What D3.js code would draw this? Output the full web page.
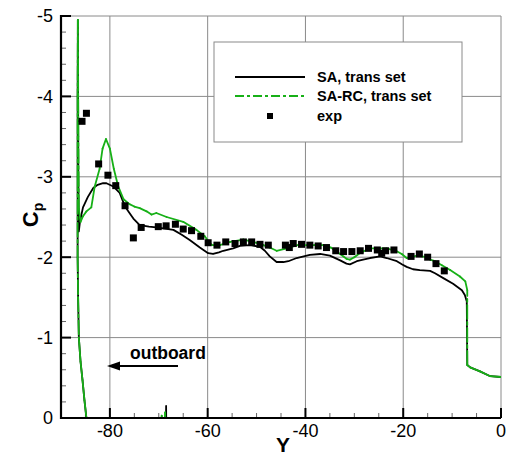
<!DOCTYPE html>
<html><head><meta charset="utf-8">
<script src="https://cdn.jsdelivr.net/npm/d3@7"></script>
<style>body{margin:0;background:#fff}svg{display:block}</style>
</head><body>
<script>
// ---------- data ----------
const xTicks = [-80, -60, -40, -20, 0];
const yTicks = [-5, -4, -3, -2, -1, 0];
const seriesNames = ["SA, trans set", "SA-RC, trans set", "exp"];

// SA, trans set : [Y, Cp]
const saY  = [0,-2.2,-4.3,-6.3,-6.9,-7.0,-7.4,-8.0,-9.8,-11.8,-13.5,-14.5,-16.6,-18.0,-19.3,-20.2,-21.3,-23.4,-24.7,-26.8,-28.2,-29.5,-30.9,-31.6,-32.9,-35.0,-37.0,-39.1,-41.8,-43.5,-44.5,-45.9,-47.3,-48.3,-49.3,-51.4,-53.4,-54.8,-56.8,-57.7,-58.9,-59.9,-61.6,-63.6,-65.3,-67.0,-70.5,-72.0,-73.9,-75.2,-76.1,-76.9,-78.0,-79.3,-80.7,-81.4,-82.5,-83.4,-84.5,-85.5,-86.1,-86.35,-86.45,-86.5,-86.55,-86.6,-86.6,-86.6,-86.5,-86.35,-86.0,-85.6,-85.2,-84.8,-84.2,-80.0,-72.0,-69.0,-68.55,-68.5,-68.45,-64.0,-60.0];
const saCp = [-0.51,-0.52,-0.58,-0.63,-0.66,-1.45,-1.53,-1.59,-1.67,-1.74,-1.80,-1.83,-1.84,-1.85,-1.88,-1.91,-1.95,-1.99,-2.01,-1.99,-1.97,-1.95,-1.91,-1.92,-1.96,-2.02,-2.04,-2.03,-1.99,-1.95,-1.94,-1.94,-2.01,-2.08,-2.13,-2.15,-2.14,-2.11,-2.08,-2.06,-2.04,-2.05,-2.12,-2.21,-2.28,-2.34,-2.37,-2.38,-2.40,-2.48,-2.56,-2.63,-2.80,-2.88,-2.92,-2.92,-2.90,-2.86,-2.75,-2.62,-2.45,-2.32,-3.0,-4.0,-4.95,-4.0,-3.0,-2.0,-1.5,-1.0,-0.70,-0.47,-0.22,0.0,0.3,0.5,0.4,0.2,0.2,-0.15,0.2,0.35,0.35];

// SA-RC, trans set : [Y, Cp]
const rcY  = [0,-2.2,-4.3,-6.3,-6.9,-6.9,-7.3,-8.4,-10.4,-12.1,-13.5,-14.5,-15.2,-17.2,-18.3,-19.3,-20.3,-21.5,-23.4,-26.8,-28.9,-30.0,-30.9,-31.6,-32.9,-34.8,-36.5,-38.2,-41.6,-43.8,-45.9,-47.3,-48.6,-50.7,-52.7,-55.4,-57.5,-59.0,-59.5,-60.6,-62.3,-65.0,-68.4,-70.5,-71.5,-72.5,-73.9,-75.0,-76.0,-77.2,-78.3,-79.2,-80.0,-80.8,-81.5,-82.1,-83.1,-83.8,-84.8,-85.5,-86.0,-86.35,-86.45,-86.5,-86.55,-86.6,-86.6,-86.6,-86.5,-86.35,-86.0,-85.6,-85.2,-84.8,-84.2,-80.0,-72.0,-69.45,-69.4,-69.35,-68.8,-68.7,-68.6,-64.0,-60.0];
const rcCp = [-0.51,-0.52,-0.58,-0.63,-0.66,-1.59,-1.70,-1.76,-1.84,-1.90,-1.95,-1.97,-2.00,-2.02,-2.00,-1.99,-2.04,-2.08,-2.11,-2.11,-2.05,-2.00,-1.97,-1.98,-2.04,-2.12,-2.15,-2.15,-2.15,-2.11,-2.08,-2.12,-2.15,-2.19,-2.22,-2.19,-2.15,-2.15,-2.17,-2.26,-2.34,-2.44,-2.50,-2.55,-2.53,-2.57,-2.61,-2.63,-2.66,-2.72,-2.88,-3.10,-3.35,-3.47,-3.35,-3.10,-2.88,-2.62,-2.57,-2.51,-2.44,-2.60,-3.5,-4.3,-4.95,-4.0,-3.0,-2.0,-1.5,-1.0,-0.70,-0.47,-0.22,0.0,0.3,0.5,0.4,0.2,-0.03,0.2,0.2,-0.07,0.2,0.35,0.35];

// exp
const expY  = [-85.7,-84.8,-82.3,-80.4,-78.8,-76.9,-75.2,-73.6,-70.1,-68.5,-66.6,-65.0,-63.3,-61.4,-59.9,-58.1,-56.3,-54.4,-52.7,-51.0,-49.3,-47.6,-44.1,-43.3,-42.5,-40.8,-39.1,-37.4,-35.7,-33.8,-32.2,-30.5,-28.8,-27.1,-25.3,-24.4,-23.6,-21.9,-18.4,-16.7,-15.0,-13.3,-11.6];
const expCp = [-3.69,-3.79,-3.16,-3.02,-2.89,-2.64,-2.24,-2.37,-2.38,-2.39,-2.41,-2.35,-2.33,-2.26,-2.18,-2.15,-2.19,-2.17,-2.19,-2.19,-2.16,-2.15,-2.15,-2.12,-2.17,-2.16,-2.15,-2.14,-2.12,-2.08,-2.07,-2.07,-2.08,-2.11,-2.09,-2.05,-2.08,-2.09,-2.01,-2.04,-2.00,-1.92,-1.83];

// ---------- chart ----------
const W = 506, H = 458;
const m = {left: 61, right: 5, top: 16, bottom: 40};
const green = "#17b017";
const grid = "#8a8a8a";
const font = "'Liberation Sans', Arial, Helvetica, sans-serif";

const x = d3.scaleLinear().domain([-90, 0]).range([m.left, W - m.right]);
const y = d3.scaleLinear().domain([-5, 0]).range([m.top, H - m.bottom]);

const svg = d3.select("body").append("svg").attr("width", W).attr("height", H)
  .style("font-family", font);

svg.append("clipPath").attr("id", "clip").append("rect")
  .attr("x", x(-90)).attr("y", y(-5)).attr("width", x(0) - x(-90)).attr("height", y(0) - y(-5));

// grid
const g = svg.append("g");
g.selectAll("line.vg").data(xTicks).join("line")
  .attr("x1", d => x(d)).attr("x2", d => x(d)).attr("y1", y(-5)).attr("y2", y(0))
  .attr("stroke", grid).attr("stroke-width", 1);
g.selectAll("line.hg").data(yTicks).join("line")
  .attr("x1", x(-90)).attr("x2", x(0)).attr("y1", d => y(d)).attr("y2", d => y(d))
  .attr("stroke", grid).attr("stroke-width", 1);

// minor ticks
const yMinor = d3.range(-5, 0.001, 0.2).filter(v => Math.abs(v - Math.round(v)) > 0.01);
g.selectAll("line.ym").data(yMinor).join("line")
  .attr("x1", x(-90)).attr("x2", x(-90) + 5).attr("y1", d => y(d)).attr("y2", d => y(d))
  .attr("stroke", "#666").attr("stroke-width", 1);
const xMinor = d3.range(-85, 0, 5).filter(v => v % 20 !== 0);
g.selectAll("line.xm").data(xMinor).join("line")
  .attr("x1", d => x(d)).attr("x2", d => x(d)).attr("y1", y(0)).attr("y2", y(0) - 5)
  .attr("stroke", "#666").attr("stroke-width", 1);

// legend box (drawn under the data)
const legend = svg.append("g");
legend.append("rect").attr("x", 214).attr("y", 42).attr("width", 248).attr("height", 100)
  .attr("fill", "#fff").attr("stroke", grid).attr("stroke-width", 1);

const plot = svg.append("g").attr("clip-path", "url(#clip)");
const line = d3.line().x(d => x(d[0])).y(d => y(d[1]));

const saPts = saY.map((v, i) => [v, saCp[i]]);
const rcPts = rcY.map((v, i) => [v, rcCp[i]]);

plot.append("path").datum(saPts).attr("d", line)
  .attr("fill", "none").attr("stroke", "#000").attr("stroke-width", 1.8).attr("stroke-linejoin", "round");

// SA-RC drawn per segment: dash-dot pattern restarts on each segment
const rcSegs = d3.pairs(rcPts);
plot.selectAll("line.rc").data(rcSegs).join("line")
  .attr("x1", d => x(d[0][0])).attr("y1", d => y(d[0][1]))
  .attr("x2", d => x(d[1][0])).attr("y2", d => y(d[1][1]))
  .attr("stroke", green).attr("stroke-width", 1.8).attr("stroke-linecap", "round")
  .attr("stroke-dasharray", d => {
    const len = Math.hypot(x(d[1][0]) - x(d[0][0]), y(d[1][1]) - y(d[0][1]));
    return len > 30 ? "14,3,3,3" : null;
  });

// exp squares
plot.selectAll("rect.exp").data(expY.map((v, i) => [v, expCp[i]])).join("rect")
  .attr("x", d => x(d[0]) - 3.5).attr("y", d => y(d[1]) - 3.5)
  .attr("width", 7).attr("height", 7).attr("fill", "#000");

// axes lines + major ticks
svg.append("line").attr("x1", x(-90)).attr("x2", x(-90)).attr("y1", y(-5) - 1).attr("y2", y(0) + 1)
  .attr("stroke", "#000").attr("stroke-width", 2.2);
svg.append("line").attr("x1", x(-90) - 1).attr("x2", x(0)).attr("y1", y(0)).attr("y2", y(0))
  .attr("stroke", "#000").attr("stroke-width", 2.2);
svg.selectAll("line.ymaj").data(yTicks).join("line")
  .attr("x1", x(-90)).attr("x2", x(-90) + 10).attr("y1", d => y(d)).attr("y2", d => y(d))
  .attr("stroke", "#000").attr("stroke-width", 2);
svg.selectAll("line.xmaj").data(xTicks).join("line")
  .attr("x1", d => x(d)).attr("x2", d => x(d)).attr("y1", y(0)).attr("y2", y(0) - 10)
  .attr("stroke", "#000").attr("stroke-width", 2);

// tick labels
svg.selectAll("text.yl").data(yTicks).join("text")
  .attr("x", x(-90) - 8).attr("y", d => y(d)).attr("dy", "0.35em")
  .attr("text-anchor", "end").attr("font-size", 18).text(d => d);
svg.selectAll("text.xl").data(xTicks).join("text")
  .attr("x", d => x(d)).attr("y", y(0) + 19)
  .attr("text-anchor", "middle").attr("font-size", 18).text(d => d);

// axis titles
svg.append("text").attr("x", 283).attr("y", 452).attr("text-anchor", "middle")
  .attr("font-size", 21).attr("font-weight", "bold").text("Y");
const cp = svg.append("text").attr("transform", "translate(38,215) rotate(-90)")
  .attr("text-anchor", "middle").attr("font-size", 22).attr("font-weight", "bold");
cp.append("tspan").text("C");
cp.append("tspan").attr("font-size", 14).attr("dy", 5).text("p");

// outboard annotation
svg.append("text").attr("x", 130).attr("y", 359).attr("font-size", 17.5).attr("font-weight", "bold").text("outboard");
svg.append("line").attr("x1", 178).attr("x2", 116).attr("y1", 366).attr("y2", 366)
  .attr("stroke", "#000").attr("stroke-width", 2);
svg.append("path").attr("d", d3.line()([[107, 366], [120, 361.5], [120, 370.5]]) + "Z").attr("fill", "#000");

// legend entries
const ly = [77, 96, 116];
legend.append("line").attr("x1", 235).attr("x2", 305).attr("y1", ly[0]).attr("y2", ly[0])
  .attr("stroke", "#000").attr("stroke-width", 2);
legend.append("line").attr("x1", 235).attr("x2", 305).attr("y1", ly[1]).attr("y2", ly[1])
  .attr("stroke", green).attr("stroke-width", 2).attr("stroke-dasharray", "9,3,3,3");
legend.append("rect").attr("x", 267).attr("y", ly[2] - 3).attr("width", 6).attr("height", 6).attr("fill", "#000");
legend.selectAll("text").data(seriesNames).join("text")
  .attr("x", 317).attr("y", (d, i) => ly[i]).attr("dy", "0.36em")
  .attr("font-size", 14.5).attr("font-weight", "bold").text(d => d);
</script>
</body></html>
